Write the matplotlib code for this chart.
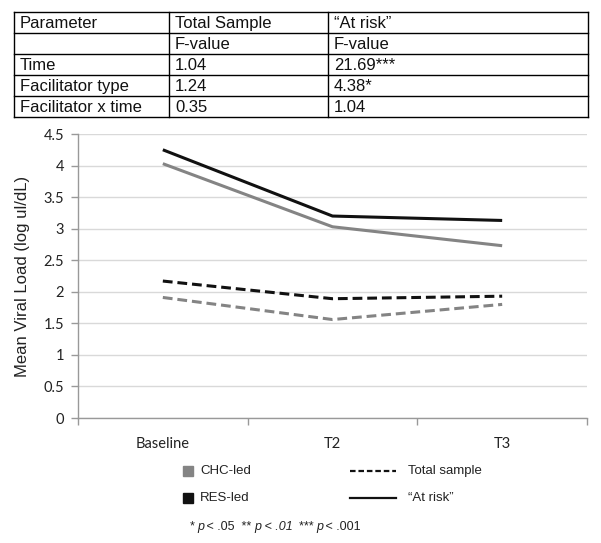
import matplotlib
matplotlib.use("Agg")
import matplotlib.pyplot as plt
from matplotlib.lines import Line2D
from matplotlib.patches import Rectangle

# ---- data ----
timepoints = ["Baseline", "T2", "T3"]
atrisk_res = [4.25, 3.20, 3.13]
atrisk_chc = [4.03, 3.03, 2.73]
total_res = [2.17, 1.89, 1.93]
total_chc = [1.91, 1.56, 1.80]

table_header = ["Parameter", "Total Sample", "\u201cAt risk\u201d"]
table_subheader = ["", "F-value", "F-value"]
table_params = ["Time", "Facilitator type", "Facilitator x time"]
table_total = ["1.04", "1.24", "0.35"]
table_atrisk = ["21.69***", "4.38*", "1.04"]

footnote_parts = [("* ", "normal"), ("p", "italic"), (" < .05  ** ", "normal"),
                  ("p < .01", "italic"), ("  *** ", "normal"), ("p", "italic"),
                  (" < .001", "normal")]

W, H = 601, 543
fig = plt.figure(figsize=(W / 100, H / 100), dpi=100)

def fx(px):
    return px / W

def fy(py):
    return 1 - py / H

# ---- table ----
tab_font = "Liberation Sans"
col_x = [14, 169, 328, 588]
row_y = [12, 33, 54, 75, 96, 117]
for y in row_y:
    fig.add_artist(Line2D([fx(col_x[0]), fx(col_x[-1])], [fy(y), fy(y)], color="black", lw=1.0))
for x in col_x:
    fig.add_artist(Line2D([fx(x), fx(x)], [fy(row_y[0]), fy(row_y[-1])], color="black", lw=1.0))
rows = [table_header, table_subheader] + [
    [p, t, a] for p, t, a in zip(table_params, table_total, table_atrisk)
]
for r, row in enumerate(rows):
    yc = (row_y[r] + row_y[r + 1]) / 2 + 1
    for c, txt in enumerate(row):
        fig.text(fx(col_x[c] + 6), fy(yc), txt, fontsize=12, family=tab_font,
                 va="center", ha="left", color="#111111")

# ---- line chart ----
ax = fig.add_axes([fx(78), fy(418), fx(587) - fx(78), fy(134) - fy(418)])
x = list(range(len(timepoints)))
gray = "#848484"
ax.plot(x, atrisk_res, color="#111111", lw=2.2, solid_capstyle="butt")
ax.plot(x, atrisk_chc, color=gray, lw=2.2, solid_capstyle="butt")
ax.plot(x, total_res, color="#111111", lw=2.2, ls=(0, (3.2, 1.6)))
ax.plot(x, total_chc, color=gray, lw=2.2, ls=(0, (3.2, 1.6)))

ax.set_xlim(-0.5, 2.5)
ax.set_ylim(0, 4.5)
ax.set_yticks([i * 0.5 for i in range(10)])
ax.set_yticklabels(["0", "0.5", "1", "1.5", "2", "2.5", "3", "3.5", "4", "4.5"])
ax.set_xticks(x)
ax.set_xticklabels(timepoints)
ax.set_xticks([-0.5, 0.5, 1.5, 2.5], minor=True)
ax.tick_params(axis="x", which="major", length=0, pad=14)
ax.tick_params(axis="x", which="minor", length=5, color="#999999", width=1)
ax.tick_params(axis="y", length=5, color="#999999", width=1, pad=5)
for lab in ax.get_xticklabels() + ax.get_yticklabels():
    lab.set_family("Lato")
    lab.set_fontsize(10.5)
    lab.set_color("#222222")
ax.grid(axis="y", color="#d9d9d9", lw=1)
ax.set_axisbelow(True)
for s in ["top", "right"]:
    ax.spines[s].set_visible(False)
for s in ["left", "bottom"]:
    ax.spines[s].set_color("#999999")
    ax.spines[s].set_linewidth(1)
ax.set_ylabel("Mean Viral Load (log ul/dL)", family="Liberation Sans", fontsize=12,
              color="#222222", labelpad=10)

# ---- legend ----
leg_font = "Liberation Sans"
fig.add_artist(Rectangle((fx(183), fy(476)), fx(10), fy(466) - fy(476), color=gray,
                         transform=fig.transFigure))
fig.add_artist(Rectangle((fx(183), fy(503)), fx(10), fy(493) - fy(503), color="#111111",
                         transform=fig.transFigure))
fig.text(fx(200), fy(471), "CHC-led", fontsize=9.5, family=leg_font, va="center", color="#222222")
fig.text(fx(200), fy(498), "RES-led", fontsize=9.5, family=leg_font, va="center", color="#222222")
fig.add_artist(Line2D([fx(350), fx(396)], [fy(471), fy(471)], color="#111111", lw=1.6,
                      ls=(0, (2.5, 1.3))))
fig.add_artist(Line2D([fx(350), fx(396)], [fy(498), fy(498)], color="#111111", lw=1.6))
fig.text(fx(408), fy(471), "Total sample", fontsize=9.5, family=leg_font, va="center", color="#222222")
fig.text(fx(408), fy(498), "\u201cAt risk\u201d", fontsize=9.5, family=leg_font, va="center", color="#222222")

# footnote built from pieces with mixed styles
renderer = fig.canvas.get_renderer()
cur = 190.0
for txt, style in footnote_parts:
    t = fig.text(fx(cur), fy(527), txt, fontsize=9, family=leg_font, style=style,
                 va="center", ha="left", color="#222222")
    bb = t.get_window_extent(renderer=renderer)
    cur += bb.width - 1.0

fig.savefig("out.png", dpi=100, facecolor="white")
